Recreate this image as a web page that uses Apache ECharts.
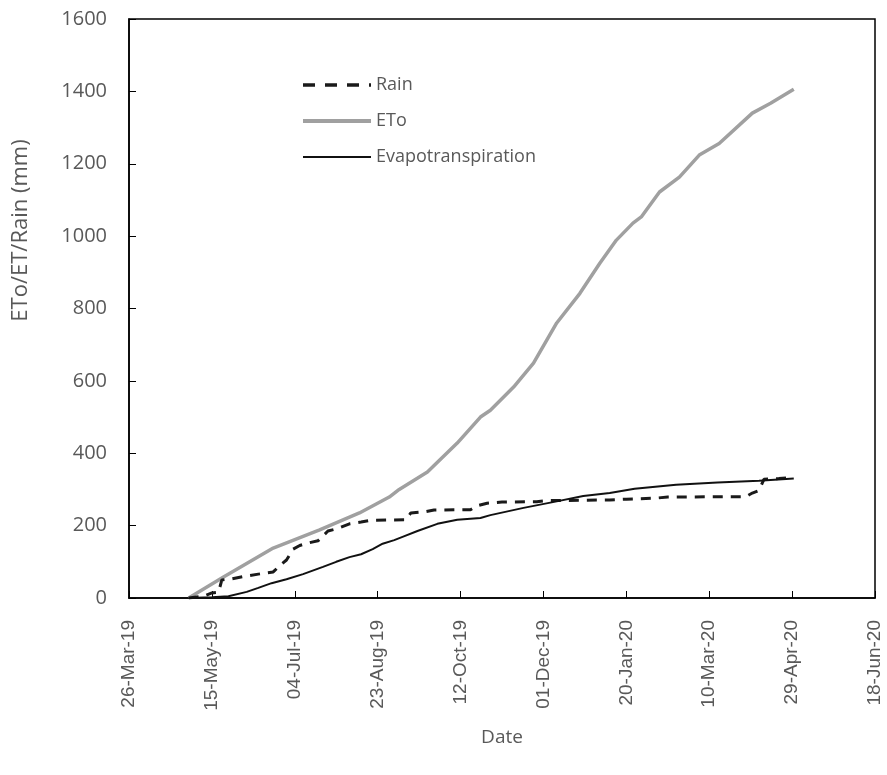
<!DOCTYPE html>
<html>
<head>
<meta charset="utf-8">
<script src="https://cdn.jsdelivr.net/npm/echarts@6/dist/echarts.min.js"></script>
<style>
html,body{margin:0;padding:0;background:#fff;}
#chart{width:887px;height:775px;}
</style>
</head>
<body>
<div id="chart"></div>
<script>
// Axis reference
const axisStartDate = '2019-03-26';
const axisEndDate = '2020-06-18';
const yTicks = [0, 200, 400, 600, 800, 1000, 1200, 1400, 1600];

// Rain (cumulative, mm)
const rainDates = ['2019-05-01','2019-05-10','2019-05-15','2019-05-19','2019-05-21','2019-05-27','2019-06-04','2019-06-12','2019-06-21','2019-06-25','2019-06-29','2019-07-03','2019-07-07','2019-07-12','2019-07-18','2019-07-24','2019-07-30','2019-08-06','2019-08-13','2019-08-19','2019-09-09','2019-09-12','2019-09-20','2019-09-26','2019-10-18','2019-10-22','2019-10-28','2019-11-06','2019-11-27','2019-12-03','2020-01-10','2020-01-20','2020-02-07','2020-02-14','2020-04-01','2020-04-05','2020-04-09','2020-04-12','2020-04-21','2020-04-30'];
const rainValues = [0,5,14,16,50,53,60,66,72,90,105,135,145,152,158,185,192,205,210,215,216,235,238,243,244,255,262,265,266,269,271,273,276,279,280,290,297,328,330,333];

// ETo (cumulative, mm)
const etoDates = ['2019-05-01','2019-05-22','2019-06-21','2019-07-19','2019-08-12','2019-08-30','2019-09-05','2019-09-22','2019-10-10','2019-10-24','2019-10-30','2019-11-13','2019-11-25','2019-12-09','2019-12-23','2020-01-04','2020-01-14','2020-01-24','2020-01-29','2020-02-09','2020-02-21','2020-03-04','2020-03-16','2020-04-05','2020-04-16','2020-04-30'];
const etoValues = [0,58,138,188,235,279,300,348,428,500,519,583,649,760,842,925,989,1036,1053,1122,1163,1224,1256,1340,1367,1406];

// Evapotranspiration (cumulative, mm)
const etDates = ['2019-05-01','2019-05-15','2019-05-25','2019-06-05','2019-06-12','2019-06-20','2019-06-29','2019-07-09','2019-07-21','2019-07-29','2019-08-06','2019-08-13','2019-08-20','2019-08-26','2019-09-02','2019-09-07','2019-09-16','2019-09-28','2019-10-10','2019-10-24','2019-10-30','2019-11-19','2019-12-09','2019-12-25','2020-01-10','2020-01-25','2020-02-19','2020-03-15','2020-04-09','2020-04-30'];
const etValues = [0,2,5,17,28,41,52,66,86,100,113,121,135,150,160,169,185,205,216,221,229,249,267,282,290,302,313,319,324,330];

const MONTHS = ['Jan','Feb','Mar','Apr','May','Jun','Jul','Aug','Sep','Oct','Nov','Dec'];
const DAY = 86400000;
function toUTC(s){ const p = s.split('-').map(Number); return Date.UTC(p[0], p[1]-1, p[2]); }
const base = toUTC(axisStartDate);
const span = Math.round((toUTC(axisEndDate) - base) / DAY);
function offs(s){ return Math.round((toUTC(s) - base) / DAY); }
function pairs(dates, vals){ return dates.map((d,i) => [offs(d), vals[i]]); }
function fmt(off){
  const d = new Date(base + off * DAY);
  const dd = String(d.getUTCDate()).padStart(2,'0');
  const yy = String(d.getUTCFullYear()).slice(2);
  return dd + '-' + MONTHS[d.getUTCMonth()] + '-' + yy;
}

const grey = '#595959';
const chart = echarts.init(document.getElementById('chart'), null, {renderer:'canvas'});
chart.setOption({
  animation: false,
  backgroundColor: '#fff',
  grid: { left: 129, right: 12, top: 19, bottom: 177, show: true, borderColor: '#000', borderWidth: 1.5, containLabel: false },
  legend: {
    orient: 'vertical', left: 296, top: 70,
    itemWidth: 68, itemHeight: 14, itemGap: 16,
    itemStyle: { opacity: 0 },
    textStyle: { color: grey, fontSize: 18, fontFamily: 'Open Sans', lineHeight: 20 },
    data: [
      { name: 'Rain', lineStyle: { width: 3.5, type: [12, 10], color: '#1a1a1a' } },
      { name: 'ETo', lineStyle: { width: 4, color: '#a0a0a0' } },
      { name: 'Evapotranspiration', lineStyle: { width: 2.2, color: '#111' } }
    ]
  },
  xAxis: {
    type: 'value', min: 0, max: span, interval: 50,
    name: 'Date', nameLocation: 'middle', nameGap: 130,
    nameTextStyle: { color: grey, fontSize: 19, fontFamily: 'Open Sans' },
    axisLine: { show: true, lineStyle: { color: '#000', width: 1.5 } },
    axisTick: { show: true, inside: true, length: 7, lineStyle: { color: '#000', width: 1 } },
    axisLabel: { rotate: 90, margin: 22, color: grey, fontSize: 19, fontFamily: 'Liberation Sans', formatter: v => fmt(v) },
    splitLine: { show: false }
  },
  yAxis: {
    type: 'value', min: yTicks[0], max: yTicks[yTicks.length-1], interval: 200,
    name: 'ETo/ET/Rain (mm)', nameLocation: 'middle', nameGap: 97,
    nameTextStyle: { color: grey, fontSize: 22, fontFamily: 'Open Sans', padding: [0, 0, 0, 156] },
    axisLine: { show: true, lineStyle: { color: '#000', width: 1.5 } },
    axisTick: { show: true, inside: true, length: 7, lineStyle: { color: '#000', width: 1 } },
    axisLabel: { margin: 22, color: grey, fontSize: 20, fontFamily: 'Open Sans', formatter: v => String(v) },
    splitLine: { show: false }
  },
  series: [
    { name: 'Rain', type: 'line', showSymbol: false, symbol: 'none', smooth: false,
      data: pairs(rainDates, rainValues),
      lineStyle: { color: '#1a1a1a', width: 3, type: [10, 8] }, itemStyle: { color: '#1a1a1a' }, z: 3 },
    { name: 'ETo', type: 'line', showSymbol: false, symbol: 'none',
      data: pairs(etoDates, etoValues),
      lineStyle: { color: '#a0a0a0', width: 3.5 }, itemStyle: { color: '#a0a0a0' }, z: 2 },
    { name: 'Evapotranspiration', type: 'line', showSymbol: false, symbol: 'none',
      data: pairs(etDates, etValues),
      lineStyle: { color: '#111', width: 2 }, itemStyle: { color: '#111' }, z: 4 }
  ]
});
</script>
</body>
</html>
